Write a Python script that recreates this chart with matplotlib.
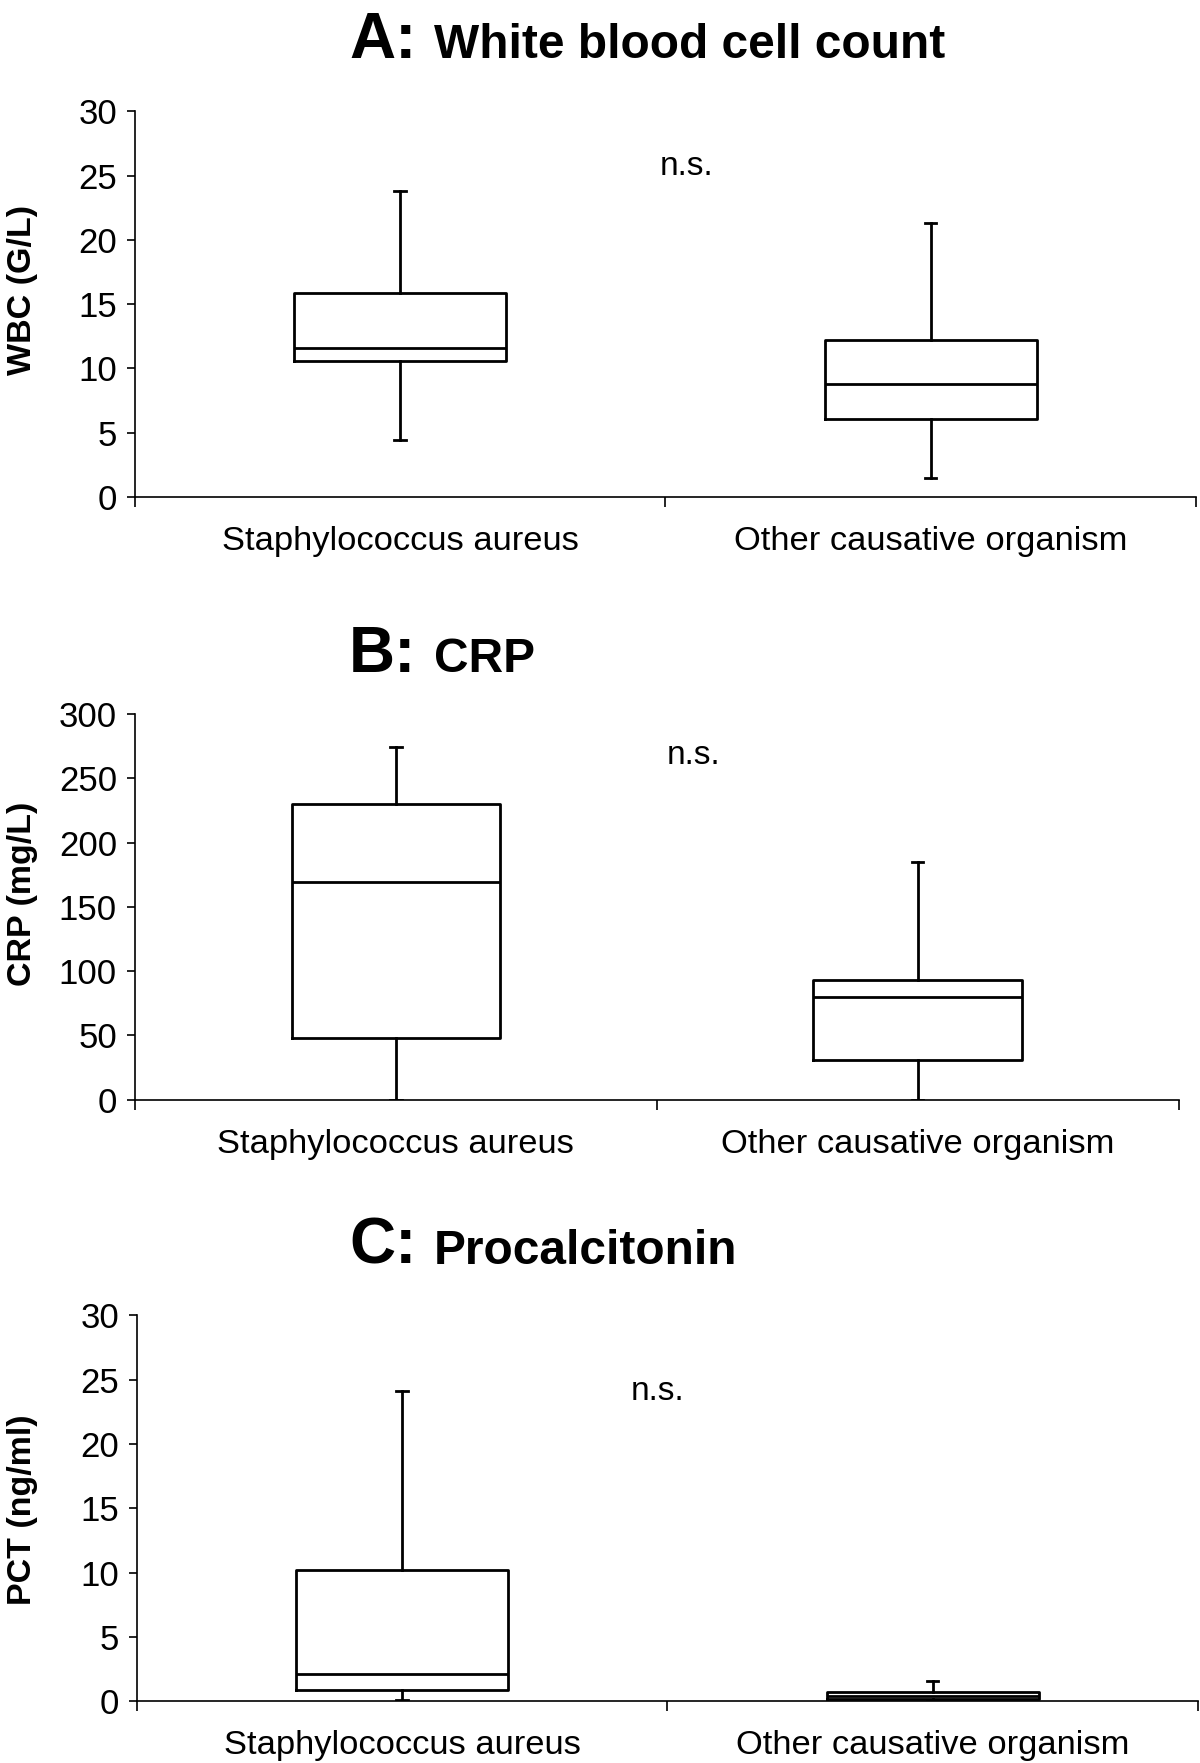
import matplotlib
matplotlib.use("Agg")
import matplotlib.pyplot as plt

plt.rcParams['font.family'] = ['Liberation Sans', 'DejaVu Sans']

categories = ["Staphylococcus aureus", "Other causative organism"]

# five-number summaries per panel: (whislo, q1, med, q3, whishi)
wbc_staph = [4.4, 10.6, 11.6, 15.9, 23.8]
wbc_other = [1.5, 6.1, 8.8, 12.2, 21.3]
crp_staph = [0.0, 48.0, 169.0, 230.0, 274.0]
crp_other = [0.0, 31.0, 80.0, 93.0, 185.0]
pct_staph = [0.1, 0.9, 2.1, 10.2, 24.1]
pct_other = [0.0, 0.15, 0.4, 0.7, 1.6]

wbc_ticks = [0, 5, 10, 15, 20, 25, 30]
crp_ticks = [0, 50, 100, 150, 200, 250, 300]
pct_ticks = [0, 5, 10, 15, 20, 25, 30]

panels = [
    dict(letter="A:", title="White blood cell count", ylabel="WBC (G/L)",
         data=[wbc_staph, wbc_other], ticks=wbc_ticks, ns=(1.04, 25.7),
         rect=[0.1125, 0.7181, 0.884, 0.2188], title_y=58.5, ylab_y=290),
    dict(letter="B:", title="CRP", ylabel="CRP (mg/L)",
         data=[crp_staph, crp_other], ticks=crp_ticks, ns=(1.071, 267.6),
         rect=[0.1125, 0.3762, 0.8697, 0.2188], title_y=672, ylab_y=894),
    dict(letter="C:", title="Procalcitonin", ylabel="PCT (ng/ml)",
         data=[pct_staph, pct_other], ticks=pct_ticks, ns=(0.982, 24.1),
         rect=[0.1143, 0.0351, 0.8838, 0.2188], title_y=1264, ylab_y=1510),
]

W, H = 1200, 1763
fig = plt.figure(figsize=(W / 100, H / 100), dpi=100)

for p in panels:
    ax = fig.add_axes(p["rect"])
    stats = []
    for name, v in zip(categories, p["data"]):
        stats.append(dict(label=name, whislo=v[0], q1=v[1], med=v[2], q3=v[3], whishi=v[4]))
    lw = 2.0
    ax.bxp(stats, positions=[0.5, 1.5], widths=0.4, showfliers=False,
           capwidths=0.022,
           boxprops=dict(color='black', linewidth=lw),
           medianprops=dict(color='black', linewidth=lw),
           whiskerprops=dict(color='black', linewidth=lw),
           capprops=dict(color='black', linewidth=lw))
    ax.set_xlim(0, 2)
    ax.set_ylim(p["ticks"][0], p["ticks"][-1])
    ax.set_yticks(p["ticks"])
    ax.set_yticklabels([str(t) for t in p["ticks"]])
    ax.set_xticks([0, 1, 2])
    ax.set_xticklabels(["", "", ""])
    ax.set_xticks([0.5, 1.5], minor=True)
    ax.set_xticklabels(categories, minor=True)
    ax.tick_params(axis='x', which='minor', length=0, pad=21, labelsize=24.8)
    ax.tick_params(axis='x', which='major', length=7, width=1.2, direction='out')
    ax.tick_params(axis='y', length=6, width=1.2, direction='out', pad=7, labelsize=25)
    for s in ['top', 'right']:
        ax.spines[s].set_visible(False)
    for s in ['left', 'bottom']:
        ax.spines[s].set_linewidth(1.2)
    ax.text(p["ns"][0], p["ns"][1], "n.s.", ha='center', va='center', fontsize=24)
    # titles
    ty = 1 - p["title_y"] / H
    fig.text(349 / W, ty, p["letter"], fontsize=46, fontweight='bold', ha='left', va='baseline')
    fig.text(434 / W, ty, p["title"], fontsize=34.5, fontweight='bold', ha='left', va='baseline')
    fig.text(22.5 / W, 1 - p["ylab_y"] / H, p["ylabel"], fontsize=24.5, fontweight='bold',
             rotation=90, ha='center', va='center')

fig.savefig("out.png", dpi=100)
